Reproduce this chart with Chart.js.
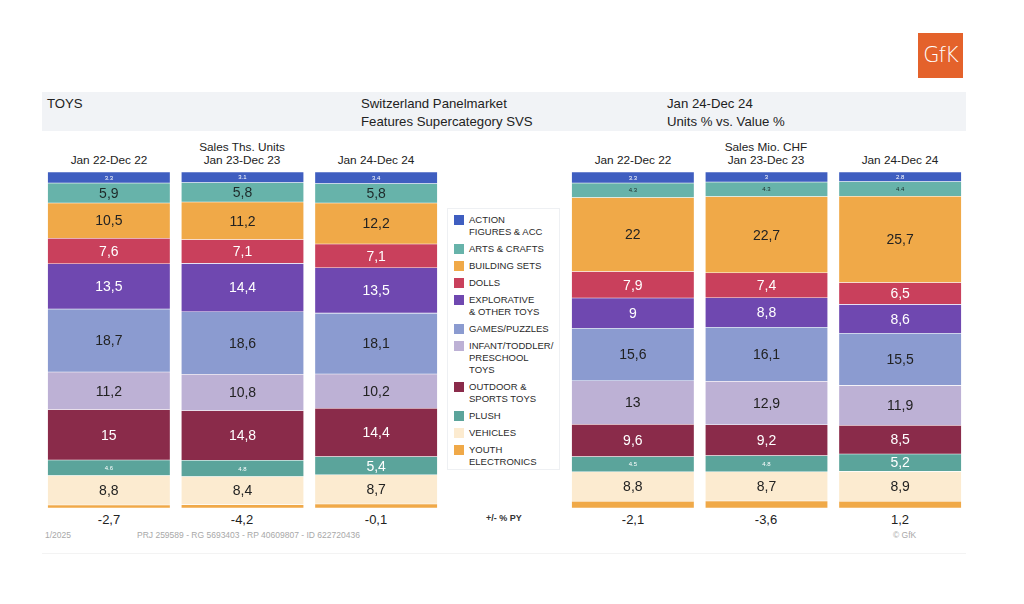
<!DOCTYPE html>
<html>
<head>
<meta charset="utf-8">
<script src="https://cdn.jsdelivr.net/npm/chart.js@4.4.1/dist/chart.umd.min.js"></script>
<style>
  html,body{margin:0;padding:0;background:#fff;width:1024px;height:604px;overflow:hidden;font-family:"Liberation Sans",Arial,sans-serif;color:#222;}
  .abs{position:absolute;}
  #band{left:42px;top:92px;width:924px;height:39px;background:#f1f3f6;}
  .ht{font-size:13.2px;color:#222;white-space:nowrap;}
  .per{font-size:11.8px;color:#222;text-align:center;width:140px;white-space:nowrap;}
  .chg{font-size:13px;color:#222;text-align:center;width:80px;}
  .foot{font-size:8.5px;color:#a8a8a8;white-space:nowrap;}
  #legend{left:447px;top:208px;width:113px;height:262px;border:1px solid #eef0f3;box-sizing:border-box;}
  .li{position:absolute;left:6px;font-size:9.5px;line-height:12px;color:#2a2a2a;}
  .sw{position:absolute;left:0;top:1px;width:10px;height:10px;}
  .lt{position:absolute;left:15px;top:0;white-space:nowrap;}
  #logo{left:918px;top:33px;width:45px;height:45px;background:#e4622b;color:#fff;font-size:21px;line-height:45px;text-align:center;font-family:"DejaVu Sans",sans-serif;font-weight:300;letter-spacing:-1px;}
</style>
</head>
<body>
<div id="logo" class="abs">GfK</div>
<div id="band" class="abs"></div>
<div class="abs ht" style="left:47px;top:96px;">TOYS</div>
<div class="abs ht" style="left:361px;top:96px;">Switzerland Panelmarket</div>
<div class="abs ht" style="left:361px;top:114px;">Features Supercategory SVS</div>
<div class="abs ht" style="left:667px;top:96px;">Jan 24-Dec 24</div>
<div class="abs ht" style="left:667px;top:114px;">Units % vs. Value %</div>

<div id="leftWrap" class="abs" style="left:42px;top:172px;width:401px;height:336px;"><canvas id="cUnits"></canvas></div>
<div id="rightWrap" class="abs" style="left:566px;top:172px;width:401px;height:336px;"><canvas id="cValue"></canvas></div>
<div id="legend" class="abs"></div>
<div id="texts"></div>

<div class="abs foot" style="left:45px;top:530px;">1/2025</div>
<div class="abs foot" style="left:137px;top:530px;">PRJ 259589 - RG 5693403 - RP 40609807 - ID 622720436</div>
<div class="abs foot" style="left:893px;top:530px;">© GfK</div>
<div class="abs" style="left:486px;top:513px;font-size:9px;font-weight:bold;color:#333;">+/- % PY</div>
<div class="abs" style="left:42px;top:553px;width:924px;height:1px;background:#f3f3f3;"></div>

<script>
// ---- data ----
const categories = ['ACTION FIGURES & ACC','ARTS & CRAFTS','BUILDING SETS','DOLLS','EXPLORATIVE & OTHER TOYS','GAMES/PUZZLES','INFANT/TODDLER/PRESCHOOL TOYS','OUTDOOR & SPORTS TOYS','PLUSH','VEHICLES','YOUTH ELECTRONICS'];
const legendLabels = [['ACTION','FIGURES & ACC'],['ARTS & CRAFTS'],['BUILDING SETS'],['DOLLS'],['EXPLORATIVE','& OTHER TOYS'],['GAMES/PUZZLES'],['INFANT/TODDLER/','PRESCHOOL','TOYS'],['OUTDOOR &','SPORTS TOYS'],['PLUSH'],['VEHICLES'],['YOUTH','ELECTRONICS']];
const colors = ['#3f5ec0','#67b3aa','#f0a948','#c9405c','#6f48b0','#8b9bd0','#bdb1d5','#8a2b4a','#5ba49b','#fcebd0','#f0a948'];
const labelColors = ['#fff','#1e2a2a','#222','#fff','#fff','#222','#222','#fff','#fff','#222','#222'];
const periods = ['Jan 22-Dec 22','Jan 23-Dec 23','Jan 24-Dec 24'];

const units22 = [3.3,5.9,10.5,7.6,13.5,18.7,11.2,15.0,4.6,8.8,0.9];
const units23 = [3.1,5.8,11.2,7.1,14.4,18.6,10.8,14.8,4.8,8.4,1.0];
const units24 = [3.4,5.8,12.2,7.1,13.5,18.1,10.2,14.4,5.4,8.7,1.2];
const value22 = [3.3,4.3,22.0,7.9,9.0,15.6,13.0,9.6,4.5,8.8,2.0];
const value23 = [3.0,4.3,22.7,7.4,8.8,16.1,12.9,9.2,4.8,8.7,2.1];
const value24 = [2.8,4.4,25.7,6.5,8.6,15.5,11.9,8.5,5.2,8.9,2.0];

const unitsChange = ['-2,7','-4,2','-0,1'];
const valueChange = ['-2,1','-3,6','1,2'];

// ---- label plugin ----
const segLabels = {
  id:'segLabels',
  afterDatasetsDraw(chart){
    const ctx = chart.ctx;
    ctx.save();
    ctx.textAlign='center'; ctx.textBaseline='middle';
    chart.data.datasets.forEach((ds,di)=>{
      const meta = chart.getDatasetMeta(di);
      meta.data.forEach((el,i)=>{
        const v = ds.data[i];
        if (v < 2.5) return;
        const p = el.getProps(['x','y','base'],true);
        const cy = (p.y+p.base)/2;
        ctx.fillStyle = labelColors[di];
        if (v < 5){
          ctx.font = '6px "Liberation Sans", Arial, sans-serif';
          ctx.fillText(String(v), p.x, cy+0.5);
        } else {
          ctx.font = '14px "Liberation Sans", Arial, sans-serif';
          ctx.fillText(String(v).replace('.',','), p.x, cy+1);
        }
      });
    });
    ctx.restore();
  }
};

function makeChart(id, arrays){
  const datasets = categories.map((c,i)=>({
    label:c,
    data: arrays.map(a=>a[i]),
    backgroundColor: colors[i],
    borderColor:'rgba(255,255,255,0.55)',
    borderWidth:{top:0.6,bottom:0.6,left:0,right:0},
    borderSkipped:false,
    barThickness:122
  }));
  return new Chart(document.getElementById(id),{
    type:'bar',
    data:{labels:periods,datasets},
    options:{
      responsive:true,maintainAspectRatio:false,animation:false,
      layout:{padding:0},
      plugins:{legend:{display:false},tooltip:{enabled:false}},
      scales:{
        x:{stacked:true,display:false,offset:true,grid:{display:false}},
        y:{stacked:true,display:false,min:0,max:100,reverse:true,grid:{display:false}}
      }
    },
    plugins:[segLabels]
  });
}
makeChart('cUnits',[units22,units23,units24]);
makeChart('cValue',[value22,value23,value24]);

// ---- legend ----
const lg = document.getElementById('legend');
let ly = 5;
categories.forEach((c,i)=>{
  const d = document.createElement('div');
  d.className='li'; d.style.top=ly+'px';
  d.innerHTML = '<div class="sw" style="background:'+colors[i]+'"></div><div class="lt">'+legendLabels[i].join('<br>')+'</div>';
  lg.appendChild(d);
  ly += legendLabels[i].length*12 + 5;
});

// ---- period & change texts ----
const tx = document.getElementById('texts');
function addText(cls,left,top,text,extra){
  const d=document.createElement('div'); d.className='abs '+cls; d.style.left=left+'px'; d.style.top=top+'px'; d.textContent=text;
  if(extra) Object.assign(d.style,extra);
  tx.appendChild(d);
}
const unitCenters=[109,242,376], valueCenters=[633,766,900];
periods.forEach((p,i)=>{
  addText('per',unitCenters[i]-70,153,p);
  addText('per',valueCenters[i]-70,153,p);
  addText('chg',unitCenters[i]-40,512,unitsChange[i]);
  addText('chg',valueCenters[i]-40,512,valueChange[i]);
});
addText('per',242-70,140,'Sales Ths. Units');
addText('per',766-70,140,'Sales Mio. CHF');
</script>
</body>
</html>
